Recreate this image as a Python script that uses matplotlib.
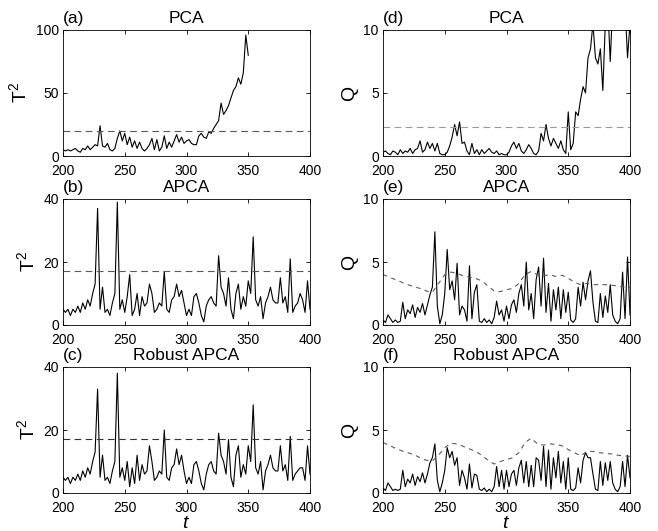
import matplotlib
matplotlib.use('Agg')
import matplotlib.pyplot as plt
import numpy as np

plt.rcParams['font.family'] = ['Liberation Sans', 'DejaVu Sans']
plt.rcParams['mathtext.fontset'] = 'custom'
plt.rcParams['mathtext.rm'] = 'Liberation Sans'
plt.rcParams['mathtext.it'] = 'Liberation Sans:italic'

# время (шаг 2)
t = np.arange(200, 401, 2)

# (a) PCA T^2 (ряд обрывается на t=350)
a_T2 = [5, 4, 5, 4, 5, 6, 4, 3, 6, 5, 8, 5, 7, 9, 8, 24, 8, 7, 10, 5,
        4, 6, 14, 20, 12, 18, 9, 15, 7, 12, 6, 11, 6, 4, 6, 9, 14, 5, 13, 4,
        7, 16, 6, 11, 7, 12, 17, 11, 15, 10, 12, 13, 10, 9, 9, 16, 18, 15, 14, 19,
        18, 22, 25, 28, 42, 33, 36, 40, 46, 52, 55, 62, 57, 66, 96, 80]
a_lim = 20

# (b) APCA T^2
b_T2 = [5, 4, 5, 3, 5, 4, 6, 4, 7, 5, 8, 6, 10, 13, 37, 5, 12, 4, 5, 3,
        7, 10, 39, 5, 8, 4, 9, 16, 3, 5, 10, 3, 9, 6, 7, 13, 10, 4, 5, 7,
        6, 17, 5, 4, 8, 9, 13, 9, 11, 7, 3, 5, 3, 9, 10, 7, 3, 1, 6, 8,
        9, 7, 6, 22, 12, 10, 6, 15, 5, 2, 10, 13, 5, 9, 6, 14, 10, 28, 8, 6,
        9, 2, 7, 9, 12, 8, 7, 7, 15, 7, 9, 4, 21, 4, 6, 7, 10, 8, 4, 14, 5]
b_lim = 17

# (c) Robust APCA T^2
c_T2 = [5, 4, 5, 3, 5, 4, 6, 4, 7, 5, 8, 6, 10, 13, 33, 5, 12, 4, 5, 3,
        7, 10, 38, 5, 8, 4, 10, 2, 8, 3, 12, 4, 9, 6, 7, 15, 10, 4, 5, 7,
        6, 20, 5, 4, 8, 9, 14, 9, 12, 7, 3, 5, 3, 9, 10, 7, 3, 1, 6, 9,
        10, 7, 6, 19, 12, 10, 6, 17, 5, 2, 12, 15, 5, 9, 6, 15, 10, 28, 8, 6,
        10, 1, 7, 9, 12, 8, 7, 7, 15, 7, 9, 4, 18, 4, 6, 7, 8, 8, 4, 15, 6]
c_lim = 17

# (d) PCA Q
d_Q = [0.3, 0.4, 0.2, 0.1, 0.4, 0.3, 0.1, 0.5, 0.2, 0.4, 0.3, 0.6, 0.2, 0.5, 0.6, 1.2, 0.3, 0.5, 1.1, 0.6,
       1.0, 0.4, 1.0, 0.2, 0.1, 0.1, 0.3, 0.8, 1.5, 2.5, 1.6, 2.7, 1.0, 1.1, 0.4, 0.1, 1.0, 0.2, 0.5, 0.1,
       0.5, 0.2, 0.4, 0.6, 0.3, 0.2, 0.4, 0.1, 0.2, 0.1, 0.1, 0.3, 0.8, 1.1, 0.6, 1.0, 0.4, 0.2, 0.5, 0.9,
       0.6, 0.2, 0.1, 0.4, 1.8, 1.2, 2.5, 1.4, 0.8, 1.4, 1.0, 0.6, 1.2, 0.5, 0.2, 3.5, 0.5, 1.0, 3.5, 3.2,
       4.5, 5.5, 5.0, 7.8, 8.5, 10.5, 7.8, 7.3, 8.5, 5.2, 10.5, 12, 7.5, 12, 12, 12, 12, 12, 12, 7.8, 10.5]
d_lim = 2.3

# (e) APCA Q
e_Q = [0.4, 0.2, 0.8, 0.5, 0.2, 0.4, 0.2, 0.3, 1.8, 0.5, 1.2, 0.9, 1.6, 0.6, 1.4, 1.0, 1.7, 0.8, 1.6, 2.4,
       3.0, 7.4, 1.5, 0.1, 0.8, 2.5, 6.0, 2.8, 3.5, 2.0, 4.9, 0.8, 1.5, 1.2, 0.3, 4.7, 0.5, 2.6, 3.2, 0.3,
       0.2, 0.5, 0.2, 0.4, 0.1, 0.6, 1.9, 0.8, 1.2, 0.3, 1.5, 0.5, 1.6, 2.0, 1.0, 2.5, 3.2, 1.5, 5.0, 1.2,
       2.5, 0.5, 3.6, 4.6, 1.5, 5.3, 1.0, 3.3, 0.3, 2.8, 1.2, 3.0, 0.5, 2.8, 1.0, 2.6, 0.4, 0.2, 0.5, 3.0,
       1.5, 3.4, 2.0, 3.5, 4.3, 1.8, 0.3, 0.2, 2.5, 0.6, 2.3, 1.0, 3.2, 0.8, 0.3, 0.1, 0.5, 4.2, 0.5, 5.4, 0.8]

# (f) Robust APCA Q
f_Q = [0.4, 0.2, 0.8, 0.5, 0.2, 0.3, 0.2, 0.3, 1.8, 0.5, 1.1, 0.8, 1.5, 0.6, 1.3, 0.9, 1.6, 0.8, 1.5, 2.4,
       2.8, 3.9, 1.0, 0.1, 0.8, 1.8, 3.6, 2.8, 3.3, 2.2, 2.8, 0.6, 1.8, 1.2, 0.3, 2.3, 0.4, 1.5, 1.4, 0.3,
       0.2, 0.4, 0.1, 0.3, 0.1, 0.5, 2.1, 0.5, 1.8, 0.3, 1.8, 0.5, 1.5, 1.8, 0.6, 2.0, 2.6, 0.8, 2.5, 0.5,
       2.2, 0.5, 2.8, 2.6, 1.0, 3.7, 0.5, 3.4, 0.3, 2.8, 1.2, 3.3, 0.8, 2.5, 0.3, 2.8, 0.3, 0.2, 0.4, 2.0,
       0.8, 2.6, 3.2, 2.8, 2.8, 1.5, 0.3, 0.2, 2.5, 0.6, 2.4, 1.0, 2.5, 0.8, 0.3, 0.1, 0.5, 2.5, 0.5, 3.0, 1.2]

# адаптивные пороги для Q (шаг 5)
t_lim = np.arange(200, 401, 5)
e_lim = [4.0, 3.8, 3.6, 3.4, 3.2, 3.05, 2.9, 2.7, 2.6, 3.3, 4.0, 4.2, 4.1, 3.9, 3.8, 3.7, 3.5, 3.1, 2.7, 2.65,
         2.8, 2.9, 3.3, 4.0, 4.25, 4.0, 3.9, 4.0, 3.85, 3.95, 3.7, 3.4, 3.2, 3.3, 3.2, 3.2, 3.2, 3.15, 3.1, 3.0, 3.0]
f_lim = [4.0, 3.8, 3.55, 3.35, 3.2, 3.05, 2.8, 2.6, 2.55, 3.0, 3.6, 3.95, 3.9, 3.7, 3.5, 3.3, 3.0, 2.6, 2.3, 2.5,
         2.65, 2.8, 3.2, 4.0, 4.35, 3.9, 3.8, 3.9, 3.85, 3.75, 3.45, 3.2, 2.95, 3.3, 3.3, 3.2, 3.15, 3.1, 3.0, 2.95, 2.9]

fig = plt.figure(figsize=(6.58, 5.31), dpi=100)

W, H = 658, 531
def make_ax(left, top):
    ax = fig.add_axes([left / W, (H - top - 126) / H, 247 / W, 126 / H])
    ax.tick_params(direction='in', top=True, right=True, labelsize=10, length=3, width=0.6)
    ax.tick_params(axis='x', pad=6)
    ax.tick_params(axis='y', pad=3)
    for s in ax.spines.values():
        s.set_linewidth(0.6)
    ax.set_xlim(200, 400)
    ax.set_xticks([200, 250, 300, 350, 400])
    return ax

def finish_y(ax, ticks):
    ax.set_yticks(ticks)
    for lab in ax.get_yticklabels():
        lab.set_verticalalignment('center_baseline')

def titles(ax, letter, name):
    ax.set_title(letter, loc='left', fontsize=12.5, pad=5)
    ax.set_title(name, fontsize=12.5, pad=5)

# левая колонка: T^2
ax = make_ax(63, 30)
ax.plot(t[:len(a_T2)], a_T2, color='k', lw=0.8)
ax.axhline(a_lim, color='0.35', lw=0.8, ls=(0, (6, 4)))
ax.set_ylim(0, 100)
finish_y(ax, [0, 50, 100])
ax.set_ylabel('T$^2$', fontsize=14)
titles(ax, '(a)', 'PCA')

ax = make_ax(63, 199)
ax.plot(t, b_T2, color='k', lw=0.8)
ax.axhline(b_lim, color='0.35', lw=0.8, ls=(0, (6, 4)))
ax.set_ylim(0, 40)
finish_y(ax, [0, 20, 40])
ax.set_ylabel('T$^2$', fontsize=14)
titles(ax, '(b)', 'APCA')

ax = make_ax(63, 367)
ax.plot(t, c_T2, color='k', lw=0.8)
ax.axhline(c_lim, color='0.2', lw=0.8, ls=(0, (6, 4)))
ax.set_ylim(0, 40)
finish_y(ax, [0, 20, 40])
ax.set_ylabel('T$^2$', fontsize=14)
ax.set_xlabel('$t$', fontsize=14, labelpad=0)
titles(ax, '(c)', 'Robust APCA')

# правая колонка: Q
ax = make_ax(383, 30)
ax.plot(t, d_Q, color='k', lw=0.8)
ax.axhline(d_lim, color='0.6', lw=0.8, ls=(0, (6, 4)))
ax.set_ylim(0, 10)
finish_y(ax, [0, 5, 10])
ax.set_ylabel('Q', fontsize=14)
titles(ax, '(d)', 'PCA')

ax = make_ax(383, 199)
ax.plot(t, e_Q, color='k', lw=0.8)
ax.plot(t_lim, e_lim, color='0.35', lw=0.8, ls=(0, (4, 4)))
ax.set_ylim(0, 10)
finish_y(ax, [0, 5, 10])
ax.set_ylabel('Q', fontsize=14)
titles(ax, '(e)', 'APCA')

ax = make_ax(383, 367)
ax.plot(t, f_Q, color='k', lw=0.8)
ax.plot(t_lim, f_lim, color='0.35', lw=0.8, ls=(0, (4, 4)))
ax.set_ylim(0, 10)
finish_y(ax, [0, 5, 10])
ax.set_ylabel('Q', fontsize=14)
ax.set_xlabel('$t$', fontsize=14, labelpad=0)
titles(ax, '(f)', 'Robust APCA')

fig.savefig('out.png', dpi=100)
